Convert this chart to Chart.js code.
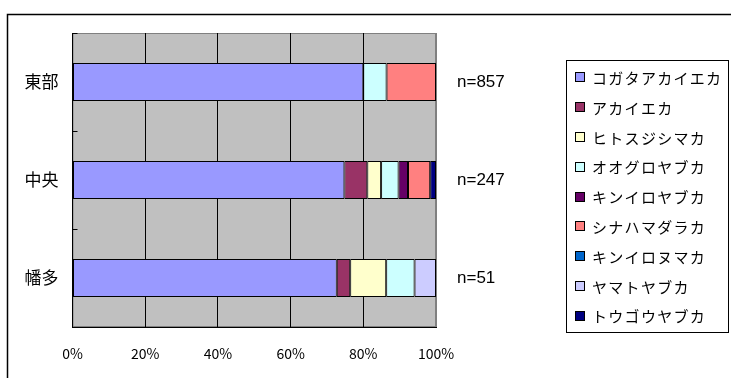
<!DOCTYPE html>
<html>
<head>
<meta charset="utf-8">
<script src="https://cdn.jsdelivr.net/npm/chart.js@4/dist/chart.umd.min.js"></script>
<style>
  html, body { margin: 0; padding: 0; background: #fff; }
  #wrap { width: 731px; height: 378px; }
</style>
</head>
<body>
<div id="wrap"><canvas id="c" width="731" height="378"></canvas></div>
<script>
// Regions (category axis) and sample sizes shown on the right
const regions = ['東部', '中央', '幡多'];
const sampleSizes = ['n=857', 'n=247', 'n=51'];

// Mosquito species (stack order) and their fill colours
const species = ['コガタアカイエカ', 'アカイエカ', 'ヒトスジシマカ', 'オオグロヤブカ', 'キンイロヤブカ',
                 'シナハマダラカ', 'キンイロヌマカ', 'ヤマトヤブカ', 'トウゴウヤブカ'];
const speciesColors = ['#9999FF', '#993366', '#FFFFCC', '#CCFFFF', '#660066',
                       '#FF8080', '#0066CC', '#CCCCFF', '#000080'];

// Share of each species per region (%), one array per species, in region order
const koga     = [80.0, 74.8, 72.7];
const akaie    = [0,    6.3,  3.7];
const hitosuji = [0,    3.8,  9.9];
const ooguro   = [6.4,  4.8,  7.8];
const kiniroY  = [0,    2.6,  0];
const shina    = [13.6, 6.1,  0];
const kiniroN  = [0,    0,    0];
const yamato   = [0,    0,    5.9];
const tougou   = [0,    1.6,  0];
const shares = [koga, akaie, hitosuji, ooguro, kiniroY, shina, kiniroN, yamato, tougou];

// X axis tick labels (percent)
const xTicks = [0, 20, 40, 60, 80, 100];

const JP = '"Noto Sans CJK JP", "Noto Sans", sans-serif';

const datasets = species.map((name, i) => ({
  label: name,
  data: shares[i],
  backgroundColor: speciesColors[i],
  borderColor: '#000',
  borderWidth: 1,
  borderSkipped: false,
  inflateAmount: 0,
  yAxisID: 'y',
  barPercentage: 0.39,
  categoryPercentage: 1
}));

// Outer frame, plot background and plot-area border
const framePlugin = {
  id: 'frame',
  beforeDraw(chart) {
    const ctx = chart.ctx, a = chart.chartArea;
    ctx.save();
    ctx.strokeStyle = '#000';
    ctx.lineWidth = 1.5;
    ctx.beginPath();
    ctx.moveTo(7.5, chart.height + 2);
    ctx.lineTo(7.5, 14.5);
    ctx.lineTo(chart.width + 2, 14.5);
    ctx.stroke();
    ctx.fillStyle = '#C0C0C0';
    ctx.fillRect(a.left, a.top, a.right - a.left, a.bottom - a.top);
    ctx.strokeStyle = '#808080';
    ctx.lineWidth = 1;
    ctx.strokeRect(a.left + 0.5, a.top + 0.5, a.right - a.left - 1, a.bottom - a.top - 1);
    ctx.restore();
  }
};

// Boxed legend listing every species with its colour swatch
const boxLegend = {
  id: 'boxLegend',
  afterDraw(chart) {
    const ctx = chart.ctx;
    const bx = 566, by = 60, bw = 162, bh = 272, step = 29.8, firstY = 77.3;
    ctx.save();
    ctx.fillStyle = '#fff';
    ctx.fillRect(bx, by, bw, bh);
    ctx.strokeStyle = '#000';
    ctx.lineWidth = 1;
    ctx.strokeRect(bx + 0.5, by + 0.5, bw, bh);
    ctx.font = '15px ' + JP;
    ctx.letterSpacing = '1.3px';
    ctx.textBaseline = 'middle';
    ctx.textAlign = 'left';
    chart.data.datasets.forEach((ds, i) => {
      const cy = firstY + i * step;
      ctx.fillStyle = ds.backgroundColor;
      ctx.fillRect(575, Math.round(cy - 5), 9, 9);
      ctx.strokeStyle = '#000';
      ctx.strokeRect(575.5, Math.round(cy - 5) + 0.5, 9, 9);
      ctx.fillStyle = '#000';
      ctx.fillText(ds.label, 592, cy + 1);
    });
    ctx.restore();
  }
};

new Chart(document.getElementById('c'), {
  type: 'bar',
  data: { labels: regions, datasets },
  plugins: [framePlugin, boxLegend],
  options: {
    indexAxis: 'y',
    responsive: false,
    animation: false,
    layout: { padding: { top: 33, right: 171, bottom: 0, left: 0 } },
    plugins: {
      legend: { display: false },
      tooltip: { enabled: false }
    },
    scales: {
      x: {
        stacked: true,
        min: 0,
        max: 100,
        afterBuildTicks(scale) { scale.ticks = xTicks.map(v => ({ value: v })); },
        afterFit(scale) { scale.height = 51; },
        grid: {
          drawTicks: false,
          lineWidth: 1,
          color: ctx => (ctx.tick && ctx.tick.value === 100) ? '#808080' : '#000'
        },
        border: { display: true, color: '#000', width: 1 },
        ticks: {
          padding: 18,
          color: '#000',
          font: { family: JP, size: 14 },
          callback: v => v + '%'
        }
      },
      y: {
        stacked: true,
        position: 'left',
        afterFit(scale) { scale.width = 72.5; },
        grid: {
          display: true,
          drawOnChartArea: false,
          drawTicks: true,
          tickLength: -5,
          offset: true,
          color: '#000'
        },
        border: { display: true, color: '#000', width: 1 },
        ticks: {
          padding: 19,
          color: '#000',
          font: { family: JP, size: 17 }
        }
      },
      n: {
        type: 'category',
        labels: sampleSizes,
        position: 'right',
        offset: true,
        afterFit(scale) { scale.width = 124; },
        grid: { display: false, drawTicks: false },
        border: { display: false },
        ticks: {
          padding: 21,
          color: '#000',
          font: { family: '"Liberation Sans", Arial, sans-serif', size: 17 }
        }
      }
    }
  }
});
</script>
</body>
</html>
